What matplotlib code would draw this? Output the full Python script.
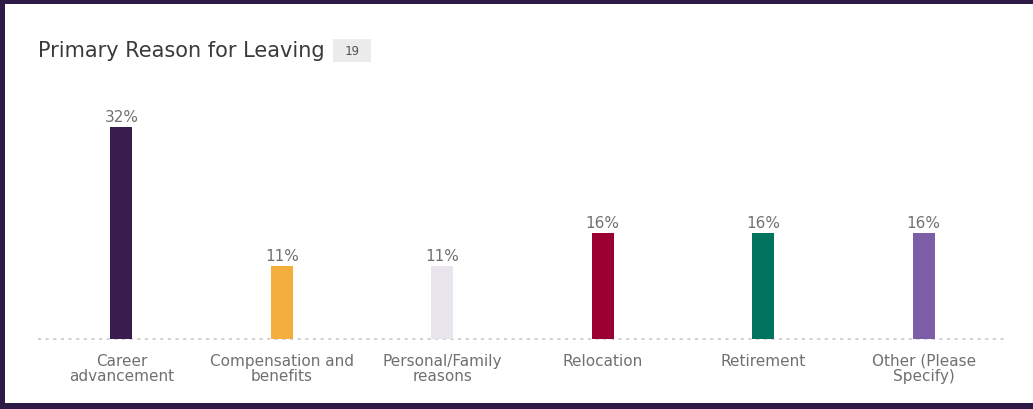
import matplotlib.pyplot as plt
from matplotlib.patches import Rectangle

reasons = [
    "Career\nadvancement",
    "Compensation and\nbenefits",
    "Personal/Family\nreasons",
    "Relocation",
    "Retirement",
    "Other (Please\nSpecify)",
]
shares = [32, 11, 11, 16, 16, 16]
bar_colors = ["#3b1c4f", "#f4ae3d", "#e8e6ec", "#9b0032", "#00735f", "#7b5ea7"]
title = "Primary Reason for Leaving"
responses = 19

W, H = 1033, 410
fig = plt.figure(figsize=(W / 100, H / 100), dpi=100)
fig.patch.set_facecolor("white")


def px_rect(x0, y0, x1, y1, color):
    # rectangle given in pixel coordinates measured from the top-left corner
    fig.add_artist(Rectangle((x0 / W, 1 - y1 / H), (x1 - x0) / W, (y1 - y0) / H,
                             transform=fig.transFigure, color=color, lw=0))


# frame around the card
frame = "#2e1a47"
px_rect(0, 0, W, 5, frame)
px_rect(0, H - 6, W, H, frame)
px_rect(0, 0, 5, H, frame)

left, right, base, top = 38, 1007, 340, 128
ax = fig.add_axes([left / W, (H - base) / H, (right - left) / W, (base - top) / H])
x = list(range(len(reasons)))
ax.bar(x, shares, width=0.137, color=bar_colors, zorder=2)
ax.set_xlim(-0.52, 5.52)
ax.set_ylim(0, max(shares))
ax.axhline(0, color="#c4c4c4", linestyle=(0, (2, 3)), linewidth=1.1,
           zorder=1, clip_on=False)

label_font = dict(family="DejaVu Sans", color="#707070")
for xi, v in zip(x, shares):
    ax.annotate(f"{v}%", (xi, v), xytext=(0, 2), textcoords="offset points",
                ha="center", va="bottom", fontsize=11, annotation_clip=False,
                **label_font)

ax.set_xticks(x)
ax.set_xticklabels(reasons, fontsize=11, linespacing=1.0, **label_font)
ax.tick_params(axis="x", length=0, pad=10)
ax.set_yticks([])
for s in ax.spines.values():
    s.set_visible(False)
ax.patch.set_alpha(0)

fig.text(38 / W, 1 - 57 / H, title, fontsize=15, color="#3a3a3a",
         family="DejaVu Sans", va="baseline")
px_rect(333, 40, 371, 63, "#ececec")
fig.text(352 / W, 1 - 51.5 / H, str(responses), fontsize=9, color="#555555",
         family="DejaVu Sans Mono", ha="center", va="center")

fig.savefig("out.png", dpi=100)
